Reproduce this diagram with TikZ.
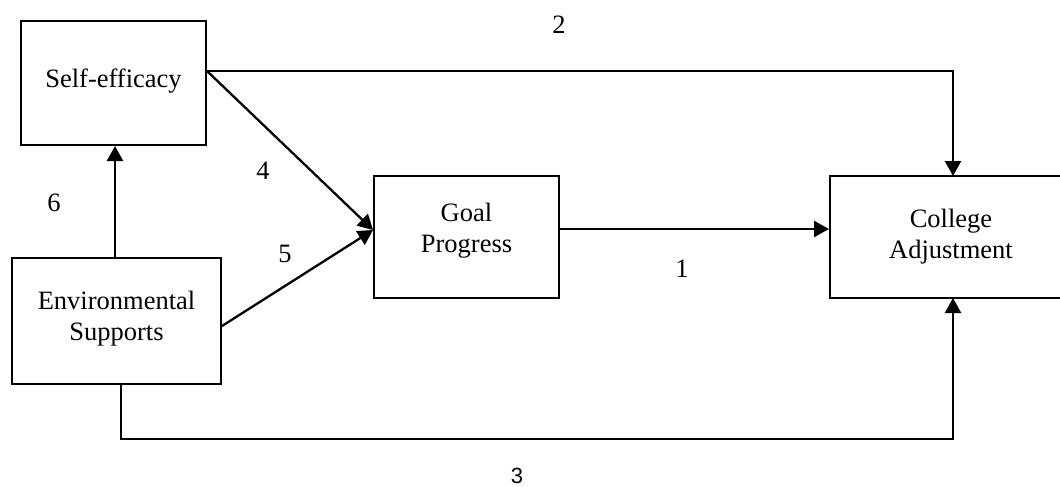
\documentclass[tikz,border=0pt]{standalone}
\usepackage{fontspec}
\setmainfont{Liberation Serif}
\newfontfamily\digitsans{Liberation Sans}
\usetikzlibrary{arrows.meta}

\begin{document}
\begin{tikzpicture}[x=1pt,y=-1pt,
  box/.style={draw, line width=2pt, minimum width=#1, inner sep=0pt},
  lbl/.style={inner sep=0pt, anchor=base, align=center,
    font=\fontsize{26.5}{31}\selectfont},
  link/.style={line width=2.3pt, -{Triangle[length=15pt,width=16pt]}}]
  \useasboundingbox (0,0) rectangle (1060,487);
  \clip (0,0) rectangle (1060,487);

  % boxes
  \node[box=185pt, minimum height=124pt] (se)  at (113.5,83) {};
  \node[box=209pt, minimum height=126pt] (env) at (116.5,321) {};
  \node[box=185pt, minimum height=122pt] (goal) at (466.5,237) {};
  \node[box=242pt, minimum height=122pt] (col) at (951,237) {};

  % box texts (base anchor sits on the last line)
  \node[lbl] (tse)   at (113.5,88) {Self-efficacy};
  \node[lbl] (tenv)  at (116.5,340) {Environmental\\Supports};
  \node[lbl] (tgoal) at (466.5,252) {Goal\\Progress};
  \node[lbl] (tcol)  at (951,258) {College\\Adjustment};

  % path labels
  \node[lbl] (n2) at (559,34) {2};
  \node[lbl] (n4) at (263,179) {4};
  \node[lbl] (n6) at (54,211) {6};
  \node[lbl] (n5) at (285,262) {5};
  \node[lbl] (n1) at (682,277) {1};
  \node[lbl, font=\digitsans\fontsize{22}{26}\selectfont] (n3) at (517,483) {3};

  % connection points
  \coordinate (seOut) at ([yshift=12pt]se.east);
  \coordinate (colTop) at (953,176);
  \coordinate (colBot) at (953,298);
  \coordinate (goalIn) at ([yshift=7pt]goal.west);
  \coordinate (envOut) at ([yshift=-5pt]env.east);
  \coordinate (envBot) at (121,384);

  % connectors
  \draw[link] (seOut) -| (colTop);
  \draw[link] (seOut) -- (goalIn);
  \draw[link] (envOut) -- (goalIn);
  \draw[link] (env.north -| 115,0) -- (se.south -| 115,0);
  \draw[link] ([yshift=8pt]goal.east) -- ([yshift=8pt]goal.east -| col.west);
  \draw[link] (envBot) -- (121,439) -| (colBot);
\end{tikzpicture}
\end{document}
